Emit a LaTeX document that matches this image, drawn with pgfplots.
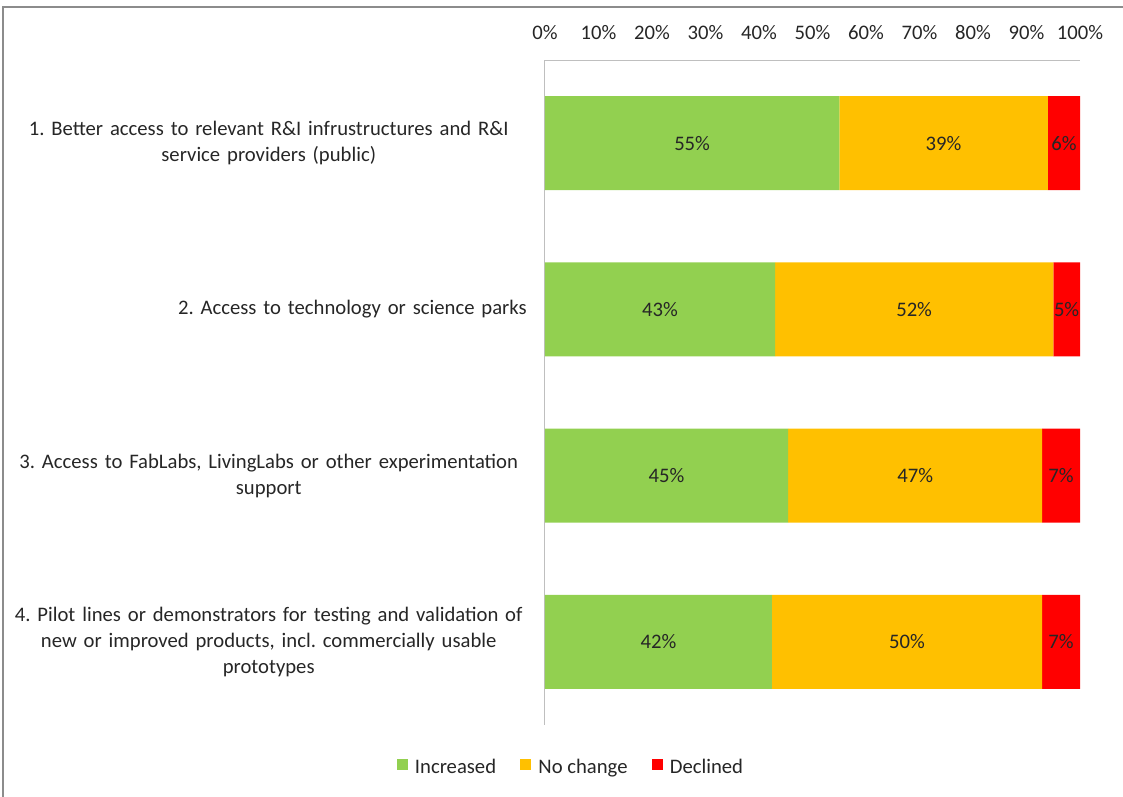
\documentclass[border=0pt]{standalone}
\usepackage{fontspec}
\setmainfont{Carlito}
\usepackage{pgfplots}
\pgfplotsset{compat=1.18}
\definecolor{cgreen}{HTML}{92D050}
\definecolor{corange}{HTML}{FFC000}
\definecolor{cred}{HTML}{FF0000}
\definecolor{axgray}{HTML}{BFBFBF}
\definecolor{bordergray}{HTML}{8C8C8C}
\definecolor{txt}{HTML}{262626}
\begin{document}
\frenchspacing
\hyphenpenalty=10000
\begin{tikzpicture}
\path[use as bounding box] (-408.75pt,-53.25pt) rectangle (433.5pt,543.75pt);
\draw[bordergray, line width=1.2pt] (-406.5pt,-60pt) -- (-406.5pt,538.5pt) -- (440pt,538.5pt);
\begin{axis}[
  at={(0pt,0pt)}, anchor=south west,
  scale only axis, width=401.25pt, height=498.75pt,
  xbar stacked, bar width=70.5pt,
  xmin=0, xmax=100, ymin=0.5, ymax=4.5, y dir=reverse,
  axis x line*=top, axis y line*=left,
  axis line style={axgray, line width=0.75pt},
  xtick={0,10,...,100}, ytick={1,2,3,4},
  major tick length=0pt,
  /pgf/number format/assume math mode=true,
  xticklabel={\pgfmathprintnumber{\tick}\%},
  xticklabel style={anchor=base, yshift=15.75pt, font=\fontsize{15.5}{18}\selectfont, text=txt},
  yticklabels={{1. Better access to relevant R\&I infrustructures and R\&I\\service providers (public)},
               {\hfill 2. Access to technology or science parks},
               {3. Access to FabLabs, LivingLabs or other experimentation\\support},
               {\hyphenpenalty=10000 4. Pilot lines or demonstrators for testing and validation of\\new or improved products, incl. commercially usable\\prototypes}},
  yticklabel style={anchor=east, inner sep=0pt, xshift=-13.5pt, text width=387pt, align=center, font=\fontsize{15.5}{19.5}\selectfont, text=txt},
  nodes near coords,
  point meta=explicit symbolic,
  every node near coord/.append style={anchor=center, font=\fontsize{15.5}{18}\selectfont, text=txt},
  legend columns=3,
  legend style={draw=none, at={(0.049,-0.063)}, anchor=center, font=\fontsize{15.5}{18}\selectfont, text=txt,
    /tikz/every odd column/.append style={column sep=3.5pt},
    /tikz/every even column/.append style={column sep=16pt}},
  legend image code/.code={\fill[#1] (0pt,-2pt) rectangle (8.25pt,6.25pt);},
]
\addplot[fill=cgreen, draw=none] coordinates {(55,1) [55\%] (43,2) [43\%] (45.45,3) [45\%] (42.42,4) [42\%]};
\addplot[fill=corange, draw=none] coordinates {(39,1) [39\%] (52,2) [52\%] (47.48,3) [47\%] (50.51,4) [50\%]};
\addplot[fill=cred, draw=none] coordinates {(6,1) [6\%] (5,2) [5\%] (7.07,3) [7\%] (7.07,4) [7\%]};
\legend{Increased, No change, Declined}
\end{axis}
\end{tikzpicture}
\end{document}
